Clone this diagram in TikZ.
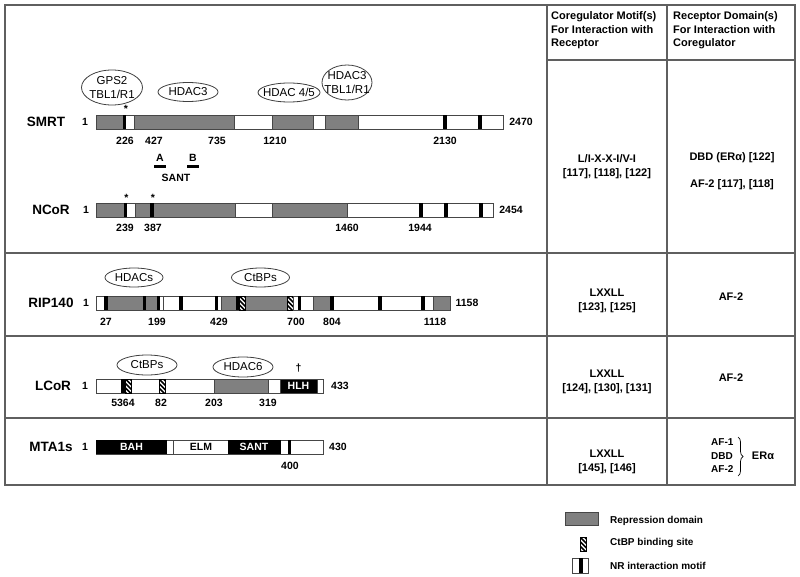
\documentclass[tikz,border=0pt]{standalone}
\usepackage{fontspec}
\setmainfont{Liberation Sans}
\usetikzlibrary{decorations.pathreplacing}
\definecolor{repgray}{RGB}{128,128,128}
\definecolor{edgegray}{RGB}{70,70,70}
\definecolor{tabgray}{RGB}{95,95,95}
\newcommand{\RepSeg}[3]{\draw[rep] (#1,#3) rectangle (#2,#3+14);}
\newcommand{\BlkBar}[2]{\fill (#1-1.6,#2) rectangle (#1+1.6,#2+14);}
\newcommand{\NRmot}[3]{\draw[prot] (#1,#3) rectangle (#2,#3+14); \fill (#1,#3) rectangle (#1+3.4,#3+14);}
\newcommand{\CtBPsite}[2]{\pic at (#1,#2) {ctbpglyph};}
\begin{document}
\begin{tikzpicture}[x=1pt,y=-1pt,
  tline/.style={draw=tabgray, line width=1.2pt},
  prot/.style={draw=edgegray, line width=0.8pt, fill=white},
  rep/.style={draw=edgegray, line width=0.8pt, fill=repgray},
  ovalline/.style={draw=black!75, line width=0.8pt, fill=white},
  pname/.style={font=\fontsize{13.5}{16}\selectfont\bfseries, inner sep=0pt},
  num/.style={font=\fontsize{10.5}{12}\selectfont\bfseries, inner sep=0pt},
  otext/.style={font=\fontsize{11.5}{12.5}\selectfont, align=center, inner sep=0pt},
  otwo/.style={font=\fontsize{11.5}{13.5}\selectfont, align=center, inner sep=0pt},
  cell/.style={font=\fontsize{11}{14}\selectfont\bfseries, align=center, inner sep=0pt},
  small/.style={font=\fontsize{10}{13.5}\selectfont\bfseries, align=left, inner sep=0pt},
  head/.style={font=\fontsize{11}{13.5}\selectfont\bfseries, align=left, anchor=west, inner sep=0pt},
  legtext/.style={font=\fontsize{10}{12}\selectfont\bfseries, anchor=west, inner sep=0pt},
  ctbpglyph/.pic={
    \begin{scope}
      \clip (0,0) rectangle (6,14);
      \fill[white] (0,0) rectangle (6,14);
      \foreach \k in {-2,...,3} \draw[line width=1.5pt] (-1,\k*4.5-1) -- (7,\k*4.5+7);
    \end{scope}
    \draw[line width=0.6pt] (0,0) rectangle (6,14);
  }]
\useasboundingbox (0,0) rectangle (800,577);
\fill[white] (0,0) rectangle (800,577);

% ---------- table frame ----------
\draw[tline] (5,5) rectangle (795,485);
\draw[tline] (547,5) -- (547,485);
\draw[tline] (667,5) -- (667,485);
\draw[tline] (547,60) -- (795,60);
\draw[tline] (5,253) -- (795,253);
\draw[tline] (5,336) -- (795,336);
\draw[tline] (5,418) -- (795,418);

% ---------- header ----------
\node[head] (h2) at (551,30.5) {Coregulator Motif(s)\\For Interaction with\\Receptor};
\node[head] (h3) at (673,30.5) {Receptor Domain(s)\\For Interaction with\\Coregulator};

% ---------- SMRT ----------
\node[pname] (smrt) at (46,122) {SMRT};
\node[num] (smrt1) at (85,122) {1};
\draw[prot] (96,115) rectangle (503,129);
\RepSeg{96}{123}{115}
\NRmot{123}{134}{115}
\RepSeg{134}{234}{115}
\RepSeg{272}{313}{115}
\RepSeg{325}{358}{115}
\BlkBar{445}{115}
\BlkBar{480}{115}
\node[num] (smrtend) at (521,122) {2470};
\node[num] (s226) at (125,141) {226};
\node[num] (s427) at (154,141) {427};
\node[num] (s735) at (217,141) {735};
\node[num] (s1210) at (275,141) {1210};
\node[num] (s2130) at (445,141) {2130};
\node[num] (sstar) at (126,109) {*};
\draw[ovalline] (112,87.5) ellipse [x radius=30.5, y radius=17.5];
\node[otwo] (o1) at (112,87.5) {GPS2\\TBL1/R1};
\draw[ovalline] (188,92) ellipse [x radius=30, y radius=9.5];
\node[otext] (o2) at (188,92) {HDAC3};
\draw[ovalline] (289,92.5) ellipse [x radius=31, y radius=9.5];
\node[otext] (o3) at (289,92.5) {HDAC 4/5};
\draw[ovalline] (347,82.5) ellipse [x radius=25, y radius=17.5];
\node[otwo] (o4) at (347,82.5) {HDAC3\\TBL1/R1};
\node[num] (lA) at (160,158) {A};
\node[num] (lB) at (193,158) {B};
\fill (154,165) rectangle (166,168);
\fill (187,165) rectangle (199,168);
\node[num] (sant) at (176,177.5) {SANT};

% ---------- NCoR ----------
\node[pname] (ncor) at (51,210) {NCoR};
\node[num] (ncor1) at (86,210) {1};
\draw[prot] (96,203) rectangle (493,217);
\RepSeg{96}{124}{203}
\NRmot{124}{135}{203}
\RepSeg{135}{235}{203}
\BlkBar{152}{203}
\RepSeg{272}{347}{203}
\BlkBar{421}{203}
\BlkBar{446}{203}
\BlkBar{481}{203}
\node[num] (ncorend) at (511,210) {2454};
\node[num] (nst1) at (126.5,197.5) {*};
\node[num] (nst2) at (153,197.5) {*};
\node[num] (n239) at (125,228) {239};
\node[num] (n387) at (153,228) {387};
\node[num] (n1460) at (347,228) {1460};
\node[num] (n1944) at (420,228) {1944};

% ---------- RIP140 ----------
\node[pname] (rip) at (51,303) {RIP140};
\node[num] (rip1) at (86,303) {1};
\draw[prot] (96,296) rectangle (450,310);
\RepSeg{104}{157}{296}
\BlkBar{106}{296}
\BlkBar{144.5}{296}
\NRmot{157}{163}{296}
\BlkBar{181}{296}
\NRmot{215}{221}{296}
\RepSeg{221}{293}{296}
\BlkBar{237.5}{296}
\CtBPsite{239.5}{296}
\CtBPsite{287}{296}
\draw[prot] (293,296) rectangle (313,310);
\fill (297.5,296) rectangle (301.2,310);
\RepSeg{313}{333}{296}
\BlkBar{332}{296}
\BlkBar{380}{296}
\BlkBar{423}{296}
\RepSeg{433}{450}{296}
\node[num] (ripend) at (467,303) {1158};
\node[num] (r27) at (106,322) {27};
\node[num] (r199) at (157,322) {199};
\node[num] (r429) at (219,322) {429};
\node[num] (r700) at (296,322) {700};
\node[num] (r804) at (332,322) {804};
\node[num] (r1118) at (435,322) {1118};
\draw[ovalline] (134,277.5) ellipse [x radius=29, y radius=9.5];
\node[otext] (o5) at (134,277.5) {HDACs};
\draw[ovalline] (260.5,277.5) ellipse [x radius=29, y radius=9.5];
\node[otext] (o6) at (260.5,277.5) {CtBPs};

% ---------- LCoR ----------
\node[pname] (lcor) at (53,386) {LCoR};
\node[num] (lcor1) at (85,386) {1};
\draw[prot] (96,379) rectangle (323,393);
\BlkBar{123}{379}
\CtBPsite{125.5}{379}
\CtBPsite{159}{379}
\RepSeg{214}{268}{379}
\draw[draw=edgegray, line width=0.8pt, fill=black] (280,379) rectangle (317,393);
\node[num, text=white] (hlh) at (298.5,386) {HLH};
\node[num] (lcorend) at (340,386) {433};
\node[num] (l5364) at (123,403) {5364};
\node[num] (l82) at (161,403) {82};
\node[num] (l203) at (214,403) {203};
\node[num] (l319) at (268,403) {319};
\node[num] (dag) at (298.5,368) {†};
\draw[ovalline] (147,365) ellipse [x radius=30, y radius=10];
\node[otext] (o7) at (147,365) {CtBPs};
\draw[ovalline] (243,367) ellipse [x radius=30, y radius=10];
\node[otext] (o8) at (243,367) {HDAC6};

% ---------- MTA1s ----------
\node[pname] (mta) at (51,447) {MTA1s};
\node[num] (mta1) at (85,447) {1};
\draw[prot] (96,440) rectangle (323,454);
\fill (96,440) rectangle (167,454);
\draw[edgegray, line width=0.8pt] (173,440) -- (173,454);
\fill (228,440) rectangle (281,454);
\BlkBar{289.5}{440}
\node[num, text=white] (bah) at (131.5,447) {BAH};
\node[num] (elm) at (201,447) {ELM};
\node[num, text=white] (msant) at (254,447) {SANT};
\node[num] (mtaend) at (338,447) {430};
\node[num] (m400) at (290,466) {400};

% ---------- table cells ----------
\node[cell] (c1a) at (607,166.5) {L/I-X-X-I/V-I\\{}[117], [118], [122]};
\node[cell] (c1b) at (732,158) {DBD (ERα) [122]};
\node[cell] (c1c) at (732,185) {AF-2 [117], [118]};
\node[cell] (c2a) at (607,300.5) {LXXLL\\{}[123], [125]};
\node[cell] (c2b) at (731,297) {AF-2};
\node[cell] (c3a) at (607,381.5) {LXXLL\\{}[124], [130], [131]};
\node[cell] (c3b) at (731,378) {AF-2};
\node[cell] (c4a) at (607,461.5) {LXXLL\\{}[145], [146]};
\node[small, anchor=west] (c4b) at (711,456) {AF-1\\DBD\\AF-2};
\draw[line width=0.7pt, decorate, decoration={brace, amplitude=5pt}] (738,437) -- (738,476);
\node[cell] (era) at (763,456) {ERα};

% ---------- legend ----------
\draw[rep] (565,512) rectangle (598,525);
\node[legtext] (lg1) at (610,521) {Repression domain};
\begin{scope}[shift={(580,537)}, yscale=0.72]
  \pic {ctbpglyph};
\end{scope}
\node[legtext] (lg2) at (610,543) {CtBP binding site};
\draw[prot] (572,558) rectangle (588,573);
\fill (578.5,558) rectangle (583,573);
\node[legtext] (lg3) at (610,566) {NR interaction motif};
\end{tikzpicture}
\end{document}
